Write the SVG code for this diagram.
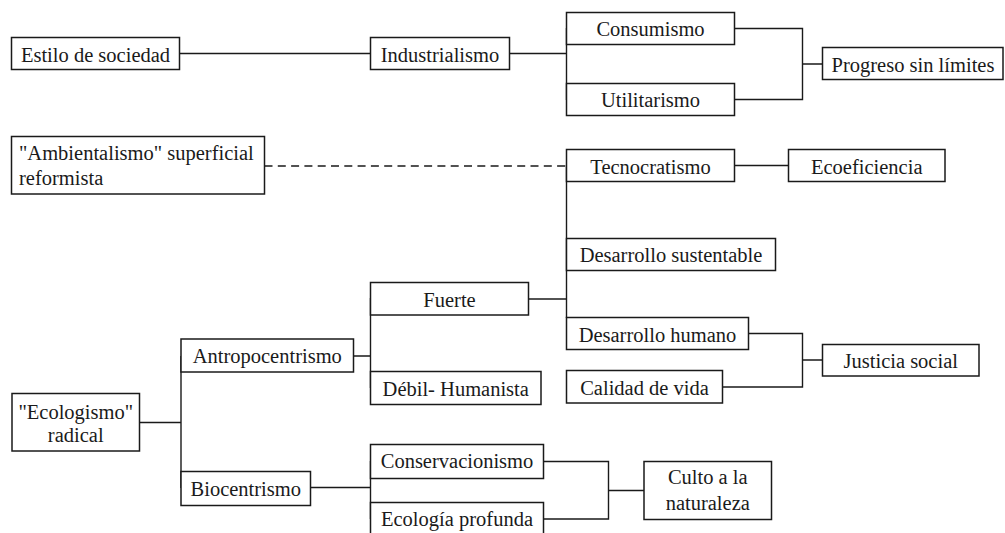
<svg xmlns="http://www.w3.org/2000/svg" width="1005" height="533" viewBox="0 0 1005 533">
<style>
rect{fill:#fff;stroke:#1a1a1a;stroke-width:1.5}
text{font-family:'Liberation Serif','Times New Roman',Times,'DejaVu Serif','Noto Serif',serif;font-size:20.5px;fill:#1a1a1a;text-anchor:middle}
.l{text-anchor:start}
#connectors path{fill:none;stroke:#1a1a1a;stroke-width:1.4}
#connectors .d{stroke-dasharray:8 5.3}
</style>
<rect x="0" y="0" width="1005" height="533" style="fill:#fff;stroke:none"/>
<g id="connectors">
<path d="M179.5 53.5H370.5"/>
<path d="M509.5 53.5H566.5M566.5 28V100M734.5 28.5H802.5V99.5H734.5M802.5 64H822.5"/>
<path class="d" d="M264.5 166H566.5"/>
<path d="M734.5 165.5H788.5"/>
<path d="M566.5 165V318"/>
<path d="M528.5 299H566.5"/>
<path d="M748.5 333.5H802.5V387H722.5M802.5 360H822.5"/>
<path d="M139.5 422.5H181M181 356V488"/>
<path d="M353.5 356H370.5M370.5 298V388"/>
<path d="M310.5 487.5H370.5M370.5 461V519"/>
<path d="M543.5 461.5H608.5V519H543.5M608.5 490.5H644"/>
</g>
<g id="estilo"><rect x="11.5" y="37.5" width="168" height="32"/><text x="95.5" y="61.5">Estilo de sociedad</text></g>
<g id="industrialismo"><rect x="370.5" y="37.5" width="139" height="32"/><text x="440" y="61.5">Industrialismo</text></g>
<g id="consumismo"><rect x="566.5" y="12.5" width="168" height="32"/><text x="650.5" y="36">Consumismo</text></g>
<g id="utilitarismo"><rect x="566.5" y="83.5" width="168" height="32"/><text x="650.5" y="107">Utilitarismo</text></g>
<g id="progreso"><rect x="822.5" y="47.5" width="180.5" height="32"/><text x="913" y="71.5">Progreso sin límites</text></g>
<g id="ambientalismo"><rect x="11.5" y="136.5" width="253" height="57.5"/><text class="l" x="19" y="160">"Ambientalismo" superficial</text><text class="l" x="19" y="185">reformista</text></g>
<g id="tecnocratismo"><rect x="566.5" y="149.5" width="168" height="32"/><text x="650.5" y="173.5">Tecnocratismo</text></g>
<g id="ecoeficiencia"><rect x="788.5" y="149.5" width="156.5" height="32"/><text x="866.75" y="173.5">Ecoeficiencia</text></g>
<g id="sustentable"><rect x="566.5" y="238.5" width="209" height="32"/><text x="671" y="262">Desarrollo sustentable</text></g>
<g id="fuerte"><rect x="370.5" y="282.5" width="158" height="32.5"/><text x="449.5" y="306.5">Fuerte</text></g>
<g id="humano"><rect x="566.5" y="317.5" width="182" height="32"/><text x="657.5" y="341.5">Desarrollo humano</text></g>
<g id="antropocentrismo"><rect x="181" y="339" width="172.5" height="33"/><text x="267.25" y="362.5">Antropocentrismo</text></g>
<g id="justicia"><rect x="822.5" y="344.5" width="156.5" height="31.5"/><text x="900.75" y="368">Justicia social</text></g>
<g id="calidad"><rect x="566.5" y="370.5" width="156" height="32.5"/><text x="644.5" y="394.5">Calidad de vida</text></g>
<g id="debil"><rect x="370.5" y="371.5" width="170.5" height="33"/><text x="455.75" y="395.5">Débil- Humanista</text></g>
<g id="ecologismo"><rect x="12" y="393.5" width="127.5" height="57.5"/><text x="75.75" y="418.5">"Ecologismo"</text><text x="75.75" y="441.5">radical</text></g>
<g id="conservacionismo"><rect x="370.5" y="444.5" width="173" height="34"/><text x="457" y="467.5">Conservacionismo</text></g>
<g id="culto"><rect x="644" y="461.5" width="127.5" height="58"/><text x="707.75" y="484">Culto a la</text><text x="707.75" y="510">naturaleza</text></g>
<g id="biocentrismo"><rect x="181" y="471.5" width="129.5" height="34"/><text x="245.75" y="495.5">Biocentrismo</text></g>
<g id="profunda"><rect x="370.5" y="502.5" width="173" height="40"/><text x="457" y="525.5">Ecología profunda</text></g>
</svg>
